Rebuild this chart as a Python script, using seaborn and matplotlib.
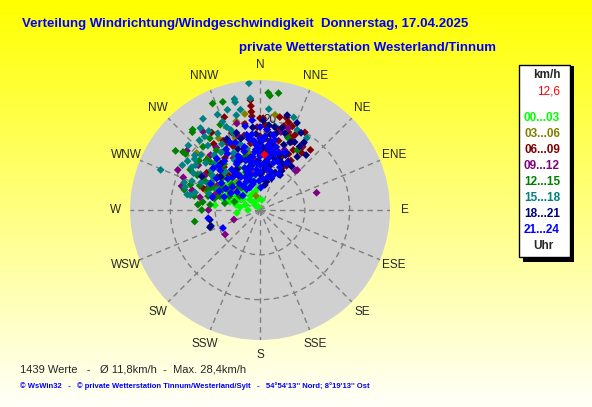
import numpy as np
import pandas as pd
import matplotlib
matplotlib.use("Agg")
import matplotlib.pyplot as plt
import seaborn as sns
from matplotlib.patches import Rectangle

# wind direction (deg) and speed (km/h) per 3-hour block
h00_dir = [315, 278, 263, 316, 315, 330, 319, 304, 318, 286, 276, 338, 344, 334, 11, 270, 294, 302, 325, 343,
           300, 310, 290, 325, 350, 285, 305, 330, 320, 296,
           282, 288, 297, 303, 308, 313, 322, 328, 336, 348, 355, 292, 317, 299, 340]
h00_spd = [3.2, 4.5, 5.2, 12.3, 1.6, 0.8, 5.1, 8.0, 8.4, 8.1, 10.1, 6.0, 4.2, 8.7, 2.3, 2.7, 5.4, 10.5, 10.9, 11.6,
           6.5, 7.2, 3.5, 3.8, 2.5, 7.0, 9.5, 6.8, 2.2, 11.5,
           5.5, 9.0, 8.0, 4.5, 11.0, 9.0, 5.5, 9.5, 4.0, 7.5, 5.0, 6.0, 13.0, 12.5, 10.0]
h03_dir = [351, 338, 9, 344, 320, 305, 330, 355, 15, 300, 340, 325, 5, 290, 345, 20, 312, 0,
           303, 316, 322, 335, 349, 358, 12, 27, 297, 309, 341, 5]
h03_spd = [21.7, 16.1, 21.5, 3.3, 14.0, 12.5, 18.5, 10.0, 14.5, 16.0, 8.5, 11.0, 17.5, 13.0, 20.5, 12.0, 19.0, 6.5,
           9.5, 16.5, 8.0, 13.5, 13.0, 15.0, 10.5, 11.0, 11.5, 7.5, 17.0, 10.0]
h06_dir = [355, 355, 355, 29, 36, 25, 22, 28, 18, 12, 16, 328, 339, 340, 334, 313, 291, 5, 10, 0,
           350, 20, 32, 345, 8, 320, 30, 2, 15, 325, 305, 40,
           348, 352, 358, 3, 8, 13, 18, 23, 27, 31, 34, 337, 332, 326, 318, 308, 298, 289, 12, 6, 0, 355, 21, 16, 25]
h06_spd = [22.0, 23.3, 24.6, 15.3, 15.8, 16.8, 12.8, 10.9, 20.6, 21.2, 21.4, 20.4, 22.2, 18.3, 16.6, 16.3, 13.6,
           18.0, 14.5, 16.5, 19.5, 18.5, 13.0, 14.0, 11.5, 12.5, 20.0, 20.5, 16.0, 18.0, 14.5, 17.5,
           17.0, 15.0, 18.5, 19.0, 15.5, 18.5, 13.5, 17.5, 14.0, 11.5, 17.0, 15.5, 17.5, 14.0, 10.5, 12.0, 12.5,
           10.0, 13.0, 12.5, 20.5, 21.0, 20.0, 19.5, 18.5]
h09_dir = [73, 42, 33, 235, 250, 287, 296, 293, 286, 309, 286, 282, 324, 19, 33, 43, 315, 340, 300, 355,
           10, 325, 270, 345,
           302, 311, 318, 333, 343, 353, 6, 22, 28, 295, 306, 329, 290, 347, 15]
h09_spd = [13.2, 11.8, 17.2, 9.5, 6.2, 18.3, 20.4, 18.6, 15.6, 21.0, 15.8, 13.7, 21.6, 19.3, 17.7, 12.2, 14.5,
           12.0, 11.0, 15.0, 9.0, 17.0, 11.5, 20.0,
           14.5, 11.5, 16.5, 13.0, 17.5, 11.5, 14.0, 14.5, 9.0, 12.5, 17.0, 9.5, 10.5, 8.5, 18.0]
h12_dir = [9, 4, 5, 336, 341, 260, 307, 319, 320, 307, 278, 276, 275, 313, 21, 32, 300, 310, 290, 325,
           295, 315, 330, 285, 345, 270, 305, 335, 0, 298, 318, 282,
           281, 285, 289, 292, 296, 299, 303, 306, 311, 314, 317, 322, 327, 333, 288, 294, 301, 309, 316, 324,
           284, 291, 298, 304, 312, 320, 340, 350, 10, 2]
h12_spd = [26.4, 26.2, 25.6, 26.0, 25.5, 14.8, 20.8, 23.0, 23.4, 21.5, 12.9, 11.2, 13.9, 16.3, 17.3, 15.7, 18.0,
           14.0, 16.5, 19.5, 12.0, 10.0, 15.5, 17.5, 12.5, 13.0, 23.0, 21.0, 13.5, 9.5, 19.0, 15.0,
           8.0, 12.0, 9.5, 14.5, 11.0, 16.0, 8.5, 13.5, 11.0, 15.5, 7.0, 13.0, 9.5, 10.5, 6.0, 7.5, 10.0, 17.5,
           12.0, 16.5, 10.5, 12.5, 14.0, 5.5, 8.5, 6.5, 9.0, 10.5, 12.0, 8.0]
h15_dir = [355, 355, 347, 292, 282, 300, 324, 33, 347, 336, 337, 346, 349, 5, 20, 25, 319, 302, 282, 285,
           305, 308, 310, 330, 340, 320, 295, 350, 315, 335, 300, 328, 312, 290, 10, 342,
           293, 297, 301, 306, 311, 316, 321, 326, 331, 336, 341, 296, 304, 313, 318, 323, 333, 338, 343, 299,
           309, 327, 348, 288, 287]
h15_spd = [28.4, 25.0, 24.7, 23.9, 15.9, 20.0, 22.6, 19.2, 25.4, 23.3, 21.4, 21.8, 22.8, 22.6, 22.0, 19.7, 20.6,
           18.0, 16.6, 15.0, 17.5, 18.5, 19.0, 17.0, 19.0, 16.0, 14.5, 17.0, 13.0, 14.0, 12.5, 24.0, 21.5, 18.0,
           19.0, 23.5,
           16.5, 13.0, 15.5, 13.0, 16.0, 14.5, 18.5, 15.5, 19.5, 16.5, 18.0, 10.5, 19.5, 18.0, 11.5, 20.5, 12.5,
           20.0, 15.5, 17.0, 14.0, 21.0, 14.0, 12.0, 17.5]
h18_dir = [252, 259, 32, 23, 10, 14, 11, 251, 0, 5, 15, 20, 25, 30, 8, 355, 350, 340, 330, 2,
           18, 28, 12, 345, 35, 320, 310, 300, 22, 3, 358, 40, 16, 6, 335,
           4, 9, 14, 19, 24, 29, 33, 1, 7, 12, 17, 21, 26, 352, 356, 347, 343, 338, 10, 15, 20, 5, 0, 357, 30,
           36, 27, 3, 13, 25]
h18_spd = [11.5, 11.4, 16.7, 21.1, 18.8, 7.6, 5.7, 11.8, 15.0, 13.0, 12.0, 15.5, 14.0, 12.5, 17.0, 18.5, 12.0,
           14.5, 10.5, 20.0, 18.0, 19.5, 10.0, 16.5, 14.5, 13.5, 11.5, 15.0, 9.0, 8.5, 11.0, 16.0, 22.0, 19.0, 17.5,
           16.0, 12.5, 14.5, 13.0, 16.5, 10.0, 18.0, 12.5, 9.5, 17.5, 8.0, 12.0, 11.5, 16.0, 13.5, 10.0, 18.0,
           12.0, 15.0, 19.0, 7.5, 10.5, 8.0, 17.0, 9.0, 12.0, 17.0, 14.0, 6.5, 13.5]
h21_dir = [8, 8, 8, 9, 10, 355, 244, 261, 0, 0, 0, 0, 355, 355, 355, 350, 345, 345, 340, 335,
           330, 325, 320, 315, 310, 305, 300, 295, 15, 15, 20, 20, 25, 5, 5, 350, 340, 330, 320, 345,
           335, 325, 310, 290, 285, 2, 12, 30, 350, 0,
           322, 328, 333, 338, 342, 347, 352, 357, 1, 6, 11, 16, 324, 331, 336, 344, 349, 353, 358, 3,
           7, 13, 18, 326, 334, 341, 346, 351, 356, 2, 9, 14, 327, 339, 348, 354, 4, 10, 317, 312,
           306, 298, 302, 308, 314, 358, 347, 336, 23, 27]
h21_spd = [11.0, 12.5, 14.0, 15.5, 17.0, 20.1, 9.2, 11.7, 10.0, 12.0, 14.0, 16.0, 9.0, 13.0, 15.5, 11.0, 8.0,
           13.5, 10.0, 12.0, 8.5, 11.0, 9.5, 12.5, 8.0, 10.5, 7.5, 10.0, 9.0, 13.0, 11.5, 8.0, 10.5, 7.0, 18.0,
           17.0, 16.0, 14.5, 15.0, 6.0, 5.5, 6.5, 5.0, 8.5, 11.0, 5.0, 16.0, 12.0, 19.0, 18.5,
           7.5, 9.0, 11.5, 13.0, 7.0, 9.5, 12.0, 14.5, 8.5, 10.5, 13.5, 11.0, 13.5, 15.5, 16.5, 11.5, 10.0, 8.0,
           6.5, 12.5, 14.5, 7.5, 13.5, 10.0, 7.0, 9.0, 14.5, 16.0, 10.5, 15.5, 9.5, 14.5, 5.5, 12.5, 6.5, 17.0,
           16.5, 12.0, 13.5, 14.0, 12.0, 12.5, 9.0, 6.5, 10.0, 13.0, 11.5, 8.0, 14.0, 9.0]
mean_dir = [4]
mean_spd = [12.6]

groups = ["00...03", "03...06", "06...09", "09...12", "12...15", "15...18", "18...21", "21...24"]
colors = ["#00ff00", "#808000", "#800000", "#800080", "#008000", "#008080", "#000080", "#0000ff"]
compass = ["N", "NNE", "NE", "ENE", "E", "ESE", "SE", "SSE", "S", "SSW", "SW", "WSW", "W", "WNW", "NW", "NNW"]

dirs = [h00_dir, h03_dir, h06_dir, h09_dir, h12_dir, h15_dir, h18_dir, h21_dir]
spds = [h00_spd, h03_spd, h06_spd, h09_spd, h12_spd, h15_spd, h18_spd, h21_spd]
rows = []
for g, d, s in zip(groups, dirs, spds):
    for a, v in zip(d, s):
        rows.append({"theta": np.deg2rad(a), "speed": v, "Uhr": g})
df = pd.DataFrame(rows)

sns.set_style("white")
plt.rcParams["font.family"] = ["Liberation Sans", "DejaVu Sans"]

fig = plt.figure(figsize=(5.92, 4.07), dpi=100)

# yellow background gradient
bg = fig.add_axes([0, 0, 1, 1], zorder=-5)
grad = np.linspace(0, 1, 256).reshape(-1, 1)
bg_img = np.dstack([np.ones_like(grad), np.ones_like(grad), grad * 0.98])
bg.imshow(bg_img, aspect="auto", extent=[0, 1, 0, 1])
bg.axis("off")

ax = fig.add_axes([0.2196, 0.1646, 0.4392, 0.6388], projection="polar")
ax.set_theta_zero_location("N")
ax.set_theta_direction(-1)
ax.set_facecolor("#d0d0d0")
ax.set_ylim(0, 29)
ax.set_xticks(np.deg2rad(np.arange(0, 360, 22.5)))
ax.set_xticklabels([])
ax.set_yticks([10, 20])
ax.set_yticklabels([])
ax.grid(True, color="#7f7f7f", linestyle=(0, (4, 3)), linewidth=1)
ax.spines["polar"].set_visible(False)

sns.scatterplot(data=df, x="theta", y="speed", hue="Uhr", palette=dict(zip(groups, colors)),
                marker="D", s=16, linewidth=0, legend=False, ax=ax, zorder=3)
sns.scatterplot(x=np.deg2rad(mean_dir), y=mean_spd, color="#ff0000", marker="D", s=18,
                linewidth=0, legend=False, ax=ax, zorder=4)
ax.set_xlabel("")
ax.set_ylabel("")

for i, lab in enumerate(compass):
    ax.text(np.deg2rad(i * 22.5), 32.3, lab, ha="center", va="center", fontsize=8.5, clip_on=False)
ax.text(np.deg2rad(6.5), 20.3, "20", ha="center", va="center", fontsize=8.5, zorder=2)

# titles
fig.text(22 / 592, 1 - 24 / 407, "Verteilung Windrichtung/Windgeschwindigkeit  Donnerstag, 17.04.2025",
         color="#0000ff", fontsize=9.5, fontweight="bold", va="center")
fig.text(239 / 592, 1 - 48 / 407, "private Wetterstation Westerland/Tinnum",
         color="#0000ff", fontsize=9.5, fontweight="bold", va="center")

# legend box
fig.patches.append(Rectangle((523 / 592, 1 - 262 / 407), 51 / 592, 196 / 407,
                             transform=fig.transFigure, facecolor="black", edgecolor="none", zorder=1))
fig.patches.append(Rectangle((519 / 592, 1 - 257 / 407), 51 / 592, 192 / 407,
                             transform=fig.transFigure, facecolor="white", edgecolor="black", lw=1, zorder=2))
fig.text(547 / 592, 1 - 75 / 407, "km/h", fontsize=8.5, fontweight="bold", ha="center", va="center", zorder=3)
fig.text(560 / 592, 1 - 92 / 407, "12,6", fontsize=8.5, color="#ff0000", ha="right", va="center", zorder=3)
leg_y = [118, 134, 150, 166, 182, 198, 214, 230]
for g, c, yy in zip(groups, colors, leg_y):
    fig.text(542 / 592, 1 - yy / 407, g, fontsize=8.5, fontweight="bold", color=c,
             ha="center", va="center", zorder=3)
fig.text(543 / 592, 1 - 246 / 407, "Uhr", fontsize=8.5, fontweight="bold", ha="center", va="center", zorder=3)

# footer
fig.text(20 / 592, 1 - 369 / 407, "1439 Werte   -   \u00d8 11,8km/h  -  Max. 28,4km/h",
         fontsize=8, va="center")
fig.text(20 / 592, 1 - 386 / 407,
         "\u00a9 WsWin32   -   \u00a9 private Wetterstation Tinnum/Westerland/Sylt   -   54\u00b054'13'' Nord; 8\u00b019'13'' Ost",
         fontsize=5.5, fontweight="bold", color="#0000ff", va="center")

fig.savefig("out.png", dpi=100)
